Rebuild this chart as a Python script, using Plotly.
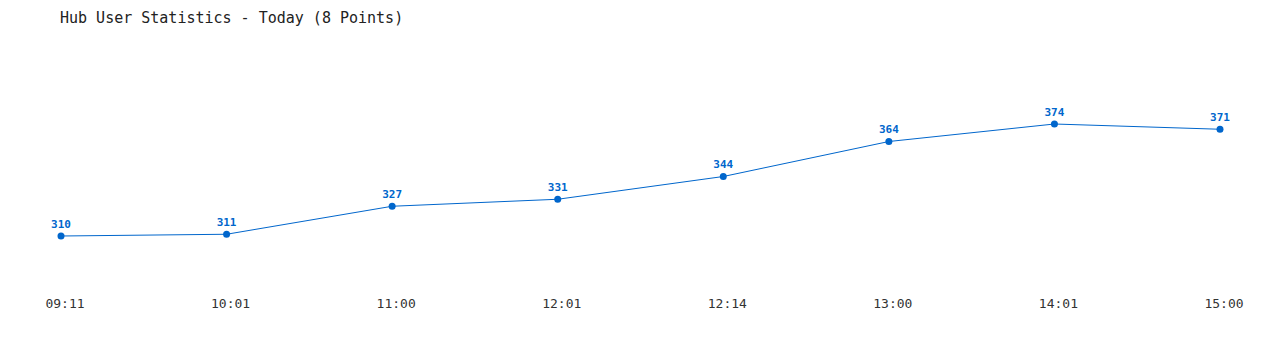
import plotly.graph_objects as go

times = ["09:11", "10:01", "11:00", "12:01", "12:14", "13:00", "14:01", "15:00"]
users = [310, 311, 327, 331, 344, 364, 374, 371]
title_text = "Hub User Statistics - Today (8 Points)"

idx = list(range(len(times)))
blue = "#0066cc"
mono = "DejaVu Sans Mono"

fig = go.Figure(go.Scatter(
    x=idx, y=users, mode="lines+markers+text",
    line=dict(color=blue, width=1),
    marker=dict(color=blue, size=7),
    text=[str(v) for v in users], textposition="top center",
    textfont=dict(family=mono, size=11, color=blue, weight="bold"),
    cliponaxis=False, hoverinfo="skip",
))

step = (1220 - 61) / 7
fig.update_layout(
    width=1280, height=350,
    margin=dict(l=0, r=0, t=0, b=60),
    paper_bgcolor="white", plot_bgcolor="white",
    showlegend=False,
    title=dict(text=title_text, x=60 / 1280, xanchor="left", y=1 - 18 / 350, yanchor="middle",
               xref="container", yref="container",
               font=dict(family=mono, size=15, color="#222222")),
    xaxis=dict(range=[-61 / step, 7 + 60 / step], tickvals=idx, ticktext=times,
               showgrid=False, zeroline=False, showline=False, ticks="",
               ticklabelshift=4, ticklabelstandoff=4,
               tickfont=dict(family=mono, size=13, color="#333333")),
    yaxis=dict(range=[310 - (290 - 236) / 1.75, 310 + 236 / 1.75], visible=False),
)
fig.write_html("out.html")
